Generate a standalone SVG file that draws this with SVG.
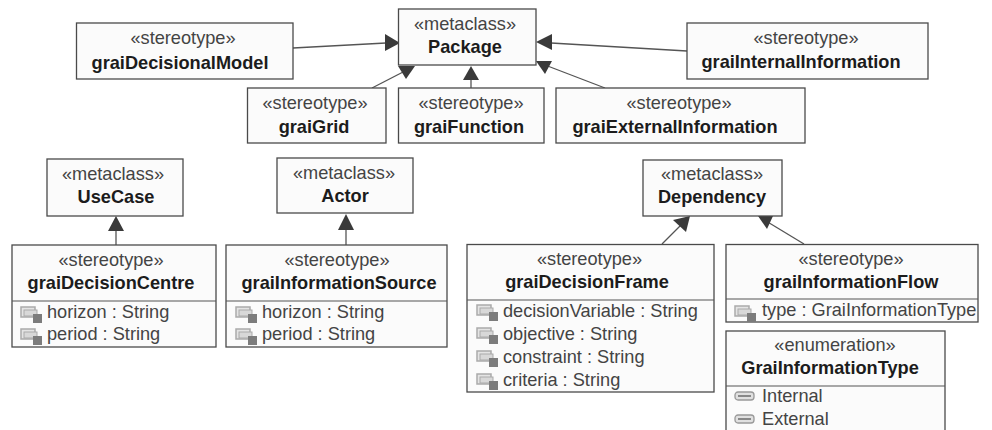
<svg xmlns="http://www.w3.org/2000/svg" width="992" height="430" viewBox="0 0 992 430">
<style>
text{font-family:"Liberation Sans",Arial,sans-serif;font-size:18.200px;fill:#444;text-anchor:middle}
text.b{font-weight:bold;fill:#1c1c1c}
text.a{text-anchor:start}
.box{fill:#fbfbfb;stroke:#4a4a4a;stroke-width:1.3}
.div{stroke:#555;stroke-width:1.2}
.c line{stroke:#555;stroke-width:1.3}
.c polygon{fill:#3a3a3a}
</style>
<defs>
<g id="attr"><rect x="0" y="0" width="14" height="10" fill="#e4e4e4" stroke="#aaa" stroke-width="1.5"/><rect x="3" y="3" width="13" height="6" fill="#d8d8d8" stroke="#aaa"/><rect x="12" y="7" width="9" height="9" fill="#7c7c7c"/></g>
<g id="lit"><rect x="0" y="1" width="19" height="8" rx="3" fill="#e0e0e0" stroke="#999" stroke-width="1.300"/><rect x="3" y="4" width="13" height="2" fill="#888"/></g>
</defs>
<rect width="992" height="430" fill="#fff"/>
<g id="connectors" class="c">
<line x1="293" y1="48" x2="386" y2="43"/><polygon points="400,43 385,34 385,51"/>
<line x1="372" y1="88" x2="405" y2="71"/><polygon points="415,66 398,66 406,79"/>
<line x1="471" y1="88" x2="471" y2="79"/><polygon points="471,66 463,80 479,80"/>
<line x1="605" y1="88" x2="545" y2="65"/><polygon points="536,61 552,61 545,74"/>
<line x1="687" y1="51" x2="551" y2="43"/><polygon points="536,42 552,34 552,50"/>
<line x1="116" y1="245" x2="116" y2="230"/><polygon points="116,216 108,231 124,231"/>
<line x1="346" y1="245" x2="346" y2="229"/><polygon points="346,214 338,230 354,230"/>
<line x1="662" y1="244" x2="683" y2="223"/><polygon points="690,216 673,220 686,232"/>
<line x1="804" y1="244" x2="766" y2="221"/><polygon points="758,216 773,216 767,229"/>
</g>
<g id="graiDecisionalModel"><rect class="box" x="76.500" y="23" width="216.500" height="56"/><text x="183" y="44">«stereotype»</text><text class="b" x="180" y="69">graiDecisionalModel</text></g>
<g id="Package"><rect class="box" x="398.500" y="9" width="137.500" height="56"/><text x="465" y="30">«metaclass»</text><text class="b" x="465" y="53">Package</text></g>
<g id="graiInternalInformation"><rect class="box" x="687" y="23" width="241" height="56"/><text x="806" y="44">«stereotype»</text><text class="b" x="801" y="68">graiInternalInformation</text></g>
<g id="graiGrid"><rect class="box" x="247.500" y="88" width="138.500" height="55"/><text x="315" y="109">«stereotype»</text><text class="b" x="314" y="133">graiGrid</text></g>
<g id="graiFunction"><rect class="box" x="398.500" y="88" width="145.500" height="55"/><text x="471" y="109">«stereotype»</text><text class="b" x="469" y="133">graiFunction</text></g>
<g id="graiExternalInformation"><rect class="box" x="556" y="88" width="249" height="55"/><text x="679" y="109">«stereotype»</text><text class="b" x="675" y="133">graiExternalInformation</text></g>
<g id="UseCase"><rect class="box" x="47" y="159" width="136" height="57"/><text x="113" y="180">«metaclass»</text><text class="b" x="116" y="203">UseCase</text></g>
<g id="Actor"><rect class="box" x="277" y="158" width="136" height="55"/><text x="344" y="179">«metaclass»</text><text class="b" x="345" y="202">Actor</text></g>
<g id="Dependency"><rect class="box" x="643" y="160" width="139" height="56"/><text x="712" y="180">«metaclass»</text><text class="b" x="712" y="203">Dependency</text></g>
<g id="graiDecisionCentre"><rect class="box" x="12" y="245" width="204" height="102"/><line class="div" x1="12" y1="301" x2="216" y2="301"/><text x="111" y="266">«stereotype»</text><text class="b" x="111" y="289">graiDecisionCentre</text><use href="#attr" x="21" y="307"/><text class="a" x="47" y="318">horizon : String</text><use href="#attr" x="21" y="329"/><text class="a" x="47" y="340">period : String</text></g>
<g id="graiInformationSource"><rect class="box" x="226" y="245" width="221" height="102"/><line class="div" x1="226" y1="301" x2="447" y2="301"/><text x="337" y="266">«stereotype»</text><text class="b" x="339" y="289">graiInformationSource</text><use href="#attr" x="236" y="307"/><text class="a" x="262" y="318">horizon : String</text><use href="#attr" x="236" y="329"/><text class="a" x="262" y="340">period : String</text></g>
<g id="graiDecisionFrame"><rect class="box" x="467" y="244.500" width="247" height="147.500"/><line class="div" x1="467" y1="300" x2="714" y2="300"/><text x="589.500" y="265">«stereotype»</text><text class="b" x="587" y="288">graiDecisionFrame</text><use href="#attr" x="477" y="305"/><text class="a" x="503" y="317">decisionVariable : String</text><use href="#attr" x="477" y="328"/><text class="a" x="503" y="340">objective : String</text><use href="#attr" x="477" y="351"/><text class="a" x="503" y="363">constraint : String</text><use href="#attr" x="477" y="374"/><text class="a" x="503" y="386">criteria : String</text></g>
<g id="graiInformationFlow"><rect class="box" x="726" y="244.500" width="252" height="77.500"/><line class="div" x1="726" y1="299" x2="978" y2="299"/><text x="851" y="265">«stereotype»</text><text class="b" x="851" y="288">graiInformationFlow</text><use href="#attr" x="735" y="306"/><text class="a" x="762" y="316">type : GraiInformationType</text></g>
<g id="GraiInformationType"><rect class="box" x="726" y="331" width="219" height="105"/><line class="div" x1="726" y1="386" x2="945" y2="386"/><text x="835" y="351">«enumeration»</text><text class="b" x="830" y="374">GraiInformationType</text><use href="#lit" x="735" y="391"/><text class="a" x="762" y="402">Internal</text><use href="#lit" x="735" y="414"/><text class="a" x="762" y="425">External</text></g>
</svg>
